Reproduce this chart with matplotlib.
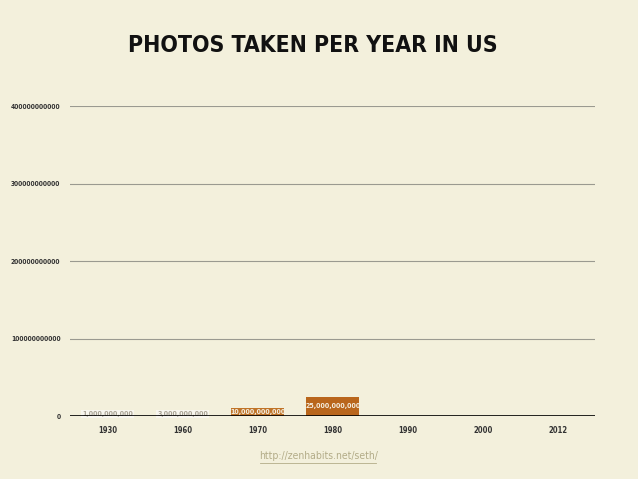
import matplotlib.pyplot as plt

# data
years = ["1930", "1960", "1970", "1980", "1990", "2000", "2012"]
photos = [1e9, 3e9, 10e9, 25e9, 0, 0, 0]
value_labels = ["1,000,000,000", "3,000,000,000", "10,000,000,000", "25,000,000,000", "", "", ""]
bar_colors = ["#ddd6c3", "#d38d45", "#c07428", "#b9661c", "#b9661c", "#b9661c", "#b9661c"]
y_ticks = [0, 100000000000, 200000000000, 300000000000, 400000000000]

BG = "#f3f0dc"
FONT = dict(family="DejaVu Sans", stretch="condensed", fontweight="bold")

fig = plt.figure(figsize=(6.38, 4.79), dpi=100, facecolor=BG)
ax = fig.add_axes([0.11, 0.1315, 0.823, 0.6472])
ax.set_facecolor(BG)

x = list(range(len(years)))
ax.bar(x, photos, width=0.7, color=bar_colors, zorder=3)

# value labels sitting on the bars (small bars get a pale box behind the text)
for i, (v, lab) in enumerate(zip(photos, value_labels)):
    if not lab:
        continue
    if v < 5e9:
        ax.text(i, 2.4e9, lab, ha="center", va="center", fontsize=5, color="#a8a294",
                zorder=4, bbox=dict(boxstyle="square,pad=0.15", fc="#f8f6ef", ec="none"), **FONT)
    else:
        ax.text(i, v / 2, lab, ha="center", va="center", fontsize=5,
                color="#f4eee0", zorder=4, **FONT)

ax.set_xlim(-0.5, 6.5)
ax.set_ylim(0, 4e11)
ax.set_yticks(y_ticks)
ax.set_yticklabels([str(t) for t in y_ticks], fontsize=4.8, color="#333333", **FONT)
ax.set_xticks(x)
ax.set_xticklabels(years, fontsize=5.5, color="#333333", **FONT)
ax.tick_params(length=0, pad=7)
ax.tick_params(axis="x", pad=7)

ax.grid(axis="y", color="#9a9a90", linewidth=0.8, zorder=0)
ax.axhline(0, color="black", linewidth=1.2, zorder=5)
for s in ax.spines.values():
    s.set_visible(False)

fig.text(0.491, 0.905, "PHOTOS TAKEN PER YEAR IN US", ha="center", va="center",
         fontsize=16.5, color="#111111", **FONT)
fig.text(0.5, 0.047, "http://zenhabits.net/seth/", ha="center", va="center",
         fontsize=7.5, family="DejaVu Sans", stretch="condensed", color="#b3ac88")
fig.add_artist(plt.Line2D([0.408, 0.59], [0.033, 0.033], color="#b3ac88", linewidth=0.6))

fig.savefig("out.png", dpi=100, facecolor=BG)
